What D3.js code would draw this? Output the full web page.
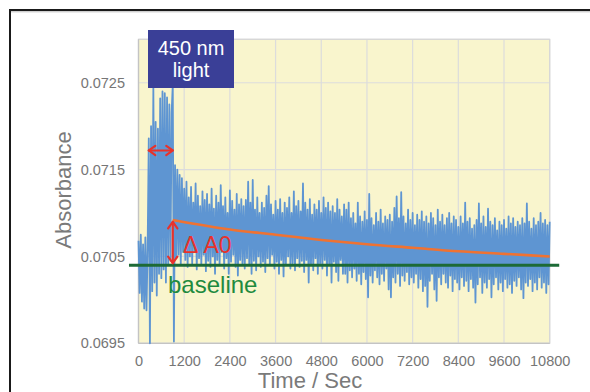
<!DOCTYPE html>
<html><head><meta charset="utf-8">
<script src="https://cdn.jsdelivr.net/npm/d3@7"></script>
<style>
html,body{margin:0;padding:0;background:#fff;}
svg{display:block;font-family:"Liberation Sans",Arial,sans-serif;}
</style></head>
<body><svg id="chart" width="590" height="392"></svg>
<script>
// ---- data ----
const sampleInterval = 30; // seconds between samples
const absorbance = [
0.07068,0.07008,0.07075,0.06998,0.07064,0.06990,0.07072,0.06988,0.07060,0.07186,
0.06950,0.07200,0.07010,0.07244,0.07020,0.07205,0.07005,0.07197,0.07030,0.07232,
0.07025,0.07240,0.07035,0.07238,0.07020,0.07233,0.07040,0.07225,0.07045,0.07215,
0.07248,0.06952,0.07155,0.07048,0.07150,0.07052,0.07144,0.07040,0.07140,0.07055,
0.07128,0.07046,0.07136,0.07038,0.07118,0.07050,0.07130,0.07042,0.07112,0.07056,
0.07134,0.07035,0.07120,0.07048,0.07108,0.07040,0.07125,0.07052,0.07115,0.07033,
0.07122,0.07045,0.07110,0.07038,0.07128,0.07050,0.07105,0.07030,0.07120,0.07046,
0.07112,0.07040,0.07132,0.07055,0.07108,0.07036,0.07118,0.07048,0.07100,0.07030,
0.07126,0.07044,0.07114,0.07052,0.07104,0.07038,0.07122,0.07028,0.07110,0.07046,
0.07116,0.07042,0.07108,0.07036,0.07115,0.07048,0.07136,0.07040,0.07112,0.07030,
0.07138,0.07045,0.07104,0.07034,0.07118,0.07050,0.07100,0.07038,0.07112,0.07044,
0.07106,0.07032,0.07120,0.07048,0.07131,0.07040,0.07110,0.07052,0.07098,0.07036,
0.07114,0.07044,0.07104,0.07030,0.07116,0.07046,0.07100,0.07027,0.07112,0.07040,
0.07106,0.07050,0.07118,0.07036,0.07100,0.07042,0.07125,0.07034,0.07108,0.07048,
0.07114,0.07038,0.07102,0.07045,0.07134,0.07032,0.07112,0.07046,0.07104,0.07020,
0.07116,0.07040,0.07098,0.07034,0.07110,0.07048,0.07104,0.07030,0.07114,0.07042,
0.07100,0.07036,0.07118,0.07046,0.07106,0.07028,0.07112,0.07040,0.07102,0.07020,
0.07108,0.07044,0.07100,0.07032,0.07116,0.07022,0.07104,0.07046,0.07096,0.07030,
0.07110,0.07030,0.07104,0.07020,0.07112,0.07034,0.07094,0.07026,0.07100,0.07036,
0.07088,0.07022,0.07112,0.07030,0.07096,0.07018,0.07090,0.07032,0.07102,0.07024,
0.07092,0.07003,0.07122,0.07028,0.07094,0.07020,0.07086,0.07034,0.07100,0.07026,
0.07090,0.07018,0.07104,0.07030,0.07088,0.07022,0.07096,0.07036,0.07092,0.07012,
0.07098,0.07003,0.07090,0.07026,0.07106,0.07020,0.07119,0.07030,0.07094,0.07016,
0.07124,0.07028,0.07096,0.07022,0.07088,0.07032,0.07104,0.07018,0.07092,0.07026,
0.07100,0.07020,0.07086,0.07030,0.07098,0.07014,0.07092,0.07024,0.07102,0.07010,
0.07090,0.07016,0.07096,0.06992,0.07088,0.07022,0.07100,0.07030,0.07094,0.07012,
0.07086,0.06999,0.07104,0.07026,0.07090,0.07018,0.07098,0.07030,0.07086,0.07020,
0.07094,0.07014,0.07100,0.07028,0.07088,0.07010,0.07096,0.07024,0.07092,0.07020,
0.07084,0.07012,0.07096,0.07026,0.07088,0.07016,0.07112,0.07022,0.07090,0.07010,
0.07094,0.07024,0.07082,0.07014,0.07086,0.06997,0.07092,0.07018,0.07111,0.07026,
0.07088,0.07008,0.07096,0.07020,0.07084,0.07014,0.07105,0.07024,0.07090,0.07003,
0.07086,0.07018,0.07094,0.07026,0.07080,0.07012,0.07090,0.07020,0.07086,0.07010,
0.07092,0.07024,0.07082,0.07014,0.07096,0.07018,0.07088,0.07008,0.07094,0.07022,
0.07084,0.07016,0.07090,0.07026,0.07086,0.07012,0.07094,0.07002,0.07088,0.07020,
0.07111,0.07016,0.07090,0.07024,0.07082,0.07010,0.07094,0.07020,0.07086,0.07012,
0.07090,0.07026,0.07100,0.07014,0.07088,0.07020,0.07092,0.07008,0.07086,0.07018,0.07090
];
const fitTimes  = [900, 2400, 3600, 4800, 6000, 7200, 8400, 9600, 10800];
const fitValues = [0.07092, 0.07081, 0.07075, 0.07069, 0.07064, 0.07060, 0.07056, 0.07053, 0.07050];
const baselineValue = 0.0704;
const baselineSpan = [-250, 11050];
const lightPeriod = [270, 900];
const lightArrowLevel = 0.07172;
const xTicks = [0,1200,2400,3600,4800,6000,7200,8400,9600,10800];
const yTicks = [0.0695,0.0705,0.0715,0.0725];
const yDomain = [0.0695, 0.073];
const xDomain = [0, 10800];

// ---- layout ----
const svg = d3.select("#chart");
const L = 138.5, R = 549.7, T = 39.3, B = 343.3;
const x = d3.scaleLinear().domain(xDomain).range([L, R]);
const y = d3.scaleLinear().domain(yDomain).range([B, T]);

// outer frame
svg.append("rect").attr("x",10).attr("y",10).attr("width",620).attr("height",420)
  .attr("fill","none").attr("stroke","#1a1a1a").attr("stroke-width",2);
svg.append("line").attr("x1",11).attr("x2",590).attr("y1",11.8).attr("y2",11.8)
  .attr("stroke","#bbb").attr("stroke-width",1);

// plot background
svg.append("rect").attr("x",L).attr("y",T).attr("width",R-L).attr("height",B-T)
  .attr("fill","#f9f5cd");

// grid
const grid = svg.append("g");
grid.selectAll(".vg").data(xTicks).join("line")
  .attr("x1",d=>x(d)).attr("x2",d=>x(d)).attr("y1",T).attr("y2",B)
  .attr("stroke","#dcdcdc").attr("stroke-width",1.2);
grid.selectAll(".hg").data(yTicks.concat([yDomain[1]])).join("line")
  .attr("x1",L).attr("x2",R).attr("y1",d=>y(d)).attr("y2",d=>y(d))
  .attr("stroke","#dcdcdc").attr("stroke-width",1.2);
svg.append("rect").attr("x",L).attr("y",T).attr("width",R-L).attr("height",B-T)
  .attr("fill","none").attr("stroke","#d6d6d6").attr("stroke-width",1.2);
svg.append("line").attr("x1",L).attr("x2",L).attr("y1",T).attr("y2",B).attr("stroke","#c4c4c4").attr("stroke-width",1.2);
svg.append("line").attr("x1",L).attr("x2",R).attr("y1",B).attr("y2",B).attr("stroke","#c4c4c4").attr("stroke-width",1.2);

// axes (labels only)
const xAxis = d3.axisBottom(x).tickValues(xTicks).tickSize(0).tickPadding(12.5).tickFormat(d3.format("d"));
const gx = svg.append("g").attr("transform",`translate(0,${B})`).call(xAxis);
gx.select(".domain").remove();
gx.selectAll("text").attr("fill","#767676").attr("font-size","14.5px")
  .attr("font-family","'Liberation Sans',Arial,sans-serif");
const yAxis = d3.axisLeft(y).tickValues(yTicks).tickSize(0).tickPadding(13.5).tickFormat(d3.format(".4f"));
const gy = svg.append("g").attr("transform",`translate(${L},0)`).call(yAxis);
gy.select(".domain").remove();
gy.selectAll("text").attr("fill","#767676").attr("font-size","14.5px")
  .attr("font-family","'Liberation Sans',Arial,sans-serif");

// axis titles
svg.append("text").attr("transform","translate(71,190) rotate(-90)")
  .attr("text-anchor","middle").attr("font-size","22px").attr("fill","#7a7a7a").text("Absorbance");
svg.append("text").attr("x",310).attr("y",388)
  .attr("text-anchor","middle").attr("font-size","22px").attr("fill","#7a7a7a").text("Time / Sec");

// data line
const series = absorbance.map((v,i)=>({t:i*sampleInterval, v}));
svg.append("path").datum(series)
  .attr("d", d3.line().x(d=>x(d.t)).y(d=>y(d.v)))
  .attr("fill","none").attr("stroke","#5e95d2").attr("stroke-width",1.8).attr("stroke-linejoin","round");

// fit line
const fit = fitTimes.map((t,i)=>({t, v:fitValues[i]}));
svg.append("path").datum(fit)
  .attr("d", d3.line().x(d=>x(d.t)).y(d=>y(d.v)).curve(d3.curveMonotoneX))
  .attr("fill","none").attr("stroke","#ef7232").attr("stroke-width",2.6);

// baseline
svg.append("line").attr("x1",x(baselineSpan[0])).attr("x2",x(baselineSpan[1]))
  .attr("y1",y(baselineValue)).attr("y2",y(baselineValue))
  .attr("stroke","#1c6a36").attr("stroke-width",3);
svg.append("text").attr("x",168).attr("y",292.5).attr("font-size","24px")
  .attr("fill","#1f8a3e").text("baseline");

// red arrows
const red = "#e8322b";
function dblArrow(x1,y1,x2,y2){
  const g = svg.append("g").attr("stroke",red).attr("stroke-width",2.2).attr("fill","none")
    .attr("stroke-linecap","round").attr("stroke-linejoin","round");
  g.append("line").attr("x1",x1).attr("y1",y1).attr("x2",x2).attr("y2",y2);
  const ang = Math.atan2(y2-y1,x2-x1), hl = 8, ha = 0.62;
  [[x1,y1,ang],[x2,y2,ang+Math.PI]].forEach(([px,py,a])=>{
    g.append("path").attr("d",
      `M${px+hl*Math.cos(a-ha)},${py+hl*Math.sin(a-ha)} L${px},${py} L${px+hl*Math.cos(a+ha)},${py+hl*Math.sin(a+ha)}`);
  });
}
dblArrow(x(lightPeriod[0]), y(lightArrowLevel), x(lightPeriod[1]), y(lightArrowLevel));
dblArrow(x(fitTimes[0]), y(fitValues[0])+2, x(fitTimes[0]), y(baselineValue)-2);
svg.append("text").attr("x",183).attr("y",253).attr("font-size","23px").attr("fill",red).text("Δ A0");

// light box
svg.append("rect").attr("x",148).attr("y",30).attr("width",86).attr("height",58).attr("fill","#3a3f97");
svg.append("text").attr("x",191).attr("y",54.5).attr("text-anchor","middle").attr("font-size","20px")
  .attr("fill","#fff").text("450 nm");
svg.append("text").attr("x",191).attr("y",77).attr("text-anchor","middle").attr("font-size","20px")
  .attr("fill","#fff").text("light");
</script></body></html>
